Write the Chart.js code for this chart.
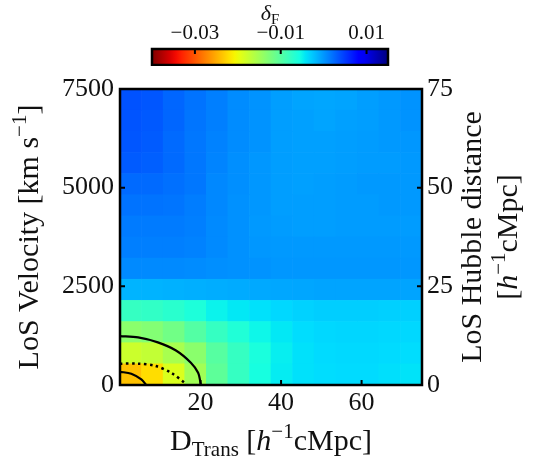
<!DOCTYPE html>
<html>
<head>
<meta charset="utf-8">
<title>Flux contrast map</title>
<script src="https://cdn.jsdelivr.net/npm/chart.js@4.4.1/dist/chart.umd.min.js"></script>
<style>
  html, body { margin: 0; padding: 0; background: #fff; }
  #wrap { position: relative; width: 541px; height: 459px; }
  #wrap canvas { position: absolute; left: 0; top: 0; }
</style>
</head>
<body>
<div id="wrap">
  <canvas id="heat" width="541" height="459"></canvas>
  <canvas id="cbar" width="541" height="66"></canvas>
</div>
<script>
// bin edges: transverse separation [h^-1 cMpc] and line-of-sight velocity [km/s]
const dTransEdges = [0, 5.36, 10.71, 16.07, 21.43, 26.79, 32.14, 37.5, 42.86, 48.21, 53.57, 58.93, 64.29, 69.64, 75];
const velocityEdges = [0, 536, 1071, 1607, 2143, 2679, 3214, 3750, 4286, 4821, 5357, 5893, 6429, 6964, 7500];

// mean flux contrast per bin, one row per velocity bin (lowest velocity first)
const deltaF = [
  [-0.0238, -0.0222, -0.0188, -0.0150, -0.0105, -0.0078, -0.0058, -0.0046, -0.0040, -0.0038, -0.0037, -0.0037, -0.0039, -0.0041],
  [-0.0178, -0.0172, -0.0155, -0.0135, -0.0100, -0.0078, -0.0060, -0.0047, -0.0040, -0.0037, -0.0036, -0.0036, -0.0037, -0.0038],
  [-0.0135, -0.0130, -0.0118, -0.0098, -0.0078, -0.0064, -0.0052, -0.0044, -0.0038, -0.0035, -0.0034, -0.0034, -0.0035, -0.0035],
  [-0.0078, -0.0075, -0.0070, -0.0062, -0.0050, -0.0044, -0.0040, -0.0035, -0.0032, -0.0030, -0.0030, -0.0030, -0.0031, -0.0031],
  [-0.0016, -0.0015, -0.0014, -0.0013, -0.0012, -0.0011, -0.0010, -0.0009, -0.0008, -0.0007, -0.0007, -0.0007, -0.0007, -0.0007],
  [0.0007, 0.0007, 0.0007, 0.0006, 0.0004, 0.0003, 0.0002, 0.0000, 0.0000, 0.0000, 0.0000, 0.0000, 0.0000, 0.0000],
  [0.0013, 0.0013, 0.0013, 0.0011, 0.0007, 0.0003, 0.0000, -0.0001, -0.0001, -0.0001, -0.0001, -0.0001, -0.0001, -0.0001],
  [0.0015, 0.0015, 0.0015, 0.0013, 0.0007, 0.0003, -0.0001, -0.0003, -0.0004, -0.0004, -0.0003, -0.0003, -0.0003, -0.0003],
  [0.0019, 0.0019, 0.0018, 0.0014, 0.0008, 0.0003, 0.0000, -0.0004, -0.0004, -0.0004, -0.0003, -0.0003, -0.0001, -0.0001],
  [0.0024, 0.0024, 0.0021, 0.0017, 0.0008, 0.0004, 0.0000, -0.0004, -0.0005, -0.0004, -0.0003, -0.0001, -0.0001, -0.0001],
  [0.0032, 0.0030, 0.0024, 0.0017, 0.0010, 0.0004, 0.0000, -0.0004, -0.0005, -0.0005, -0.0004, -0.0003, -0.0003, -0.0001],
  [0.0035, 0.0032, 0.0024, 0.0017, 0.0011, 0.0006, 0.0002, -0.0004, -0.0005, -0.0005, -0.0004, -0.0003, -0.0001, 0.0000],
  [0.0036, 0.0033, 0.0026, 0.0018, 0.0013, 0.0006, 0.0002, -0.0004, -0.0005, -0.0007, -0.0005, -0.0004, -0.0001, 0.0002],
  [0.0037, 0.0035, 0.0026, 0.0019, 0.0013, 0.0006, 0.0002, -0.0004, -0.0007, -0.0008, -0.0007, -0.0004, -0.0001, 0.0002]
];

// contour paths (D_Trans, velocity)
const contourOuter = [
  {x: 0, y: 1240}, {x: 4.5, y: 1205}, {x: 9.4, y: 1080}, {x: 13.9, y: 875},
  {x: 17.6, y: 565}, {x: 19.4, y: 310}, {x: 20.1, y: 0}
];
const contourDotted = [
  {x: 0, y: 540}, {x: 4.5, y: 540}, {x: 8.6, y: 490}, {x: 12.7, y: 310}, {x: 16.4, y: 30}
];
const contourInner = [
  {x: 0, y: 335}, {x: 2.8, y: 285}, {x: 5.3, y: 140}, {x: 6.5, y: 0}
];

const dTransTicks = [20, 40, 60];
const velocityTicks = [0, 2500, 5000, 7500];
const hubbleTicks = [0, 25, 50, 75];
const deltaFTicks = [-0.03, -0.01, 0.01];
const deltaFRange = [-0.04, 0.015];

const serif = '"Liberation Serif", "DejaVu Serif", serif';
const ink = '#111';

// reversed jet colour map (matplotlib segment data)
const jet = {
  r: [[0, 0], [0.35, 0], [0.66, 1], [0.89, 1], [1, 0.5]],
  g: [[0, 0], [0.125, 0], [0.375, 1], [0.64, 1], [0.91, 0], [1, 0]],
  b: [[0, 0.5], [0.11, 1], [0.34, 1], [0.65, 0], [1, 0]]
};
function channel(seg, t) {
  for (let i = 1; i < seg.length; i++) {
    if (t <= seg[i][0]) {
      const f = (t - seg[i - 1][0]) / (seg[i][0] - seg[i - 1][0]);
      return seg[i - 1][1] + f * (seg[i][1] - seg[i - 1][1]);
    }
  }
  return seg[seg.length - 1][1];
}
function jetR(s) {
  const t = 1 - Math.min(1, Math.max(0, s));
  const c = k => Math.round(255 * channel(jet[k], t));
  return `rgb(${c('r')},${c('g')},${c('b')})`;
}
function colorFor(v) {
  return jetR((v - deltaFRange[0]) / (deltaFRange[1] - deltaFRange[0]));
}

// text with sub/superscripts, centred on (x, y); rotated when vertical
function drawRich(ctx, parts, x, y, vertical) {
  ctx.save();
  ctx.translate(x, y);
  if (vertical) ctx.rotate(-Math.PI / 2);
  ctx.textBaseline = 'alphabetic';
  ctx.textAlign = 'left';
  ctx.fillStyle = ink;
  let w = 0;
  parts.forEach(p => { ctx.font = p.f; w += ctx.measureText(p.t).width; });
  let cx = -w / 2;
  parts.forEach(p => {
    ctx.font = p.f;
    ctx.fillText(p.t, cx, p.dy || 0);
    cx += ctx.measureText(p.t).width;
  });
  ctx.restore();
}

const big = '30px ' + serif;
const small = '21px ' + serif;
const ital = 'italic 30px ' + serif;

// frame, inward ticks and axis titles
const framePlugin = {
  id: 'frame',
  afterDatasetsDraw(chart) {
    const {ctx, chartArea: a, scales} = chart;
    ctx.save();
    ctx.strokeStyle = '#000';
    ctx.lineWidth = 2;
    ctx.beginPath();
    dTransTicks.forEach(v => {
      const px = scales.x.getPixelForValue(v);
      ctx.moveTo(px, a.bottom); ctx.lineTo(px, a.bottom - 5);
    });
    velocityTicks.forEach(v => {
      const py = scales.y.getPixelForValue(v);
      ctx.moveTo(a.left, py); ctx.lineTo(a.left + 5, py);
    });
    hubbleTicks.forEach(v => {
      const py = scales.y2.getPixelForValue(v);
      ctx.moveTo(a.right, py); ctx.lineTo(a.right - 5, py);
    });
    ctx.stroke();
    ctx.lineWidth = 2.5;
    ctx.strokeRect(a.left, a.top, a.right - a.left, a.bottom - a.top);
    ctx.restore();

    const midY = (a.top + a.bottom) / 2;
    drawRich(ctx, [
      {t: 'D', f: big}, {t: 'Trans', f: small, dy: 6}, {t: ' [', f: big},
      {t: 'h', f: ital}, {t: '\u22121', f: small, dy: -12}, {t: 'cMpc]', f: big}
    ], (a.left + a.right) / 2, 450, false);
    drawRich(ctx, [
      {t: 'LoS Velocity [km s', f: big}, {t: '\u22121', f: small, dy: -12}, {t: ']', f: big}
    ], 38, midY, true);
    drawRich(ctx, [{t: 'LoS Hubble distance', f: big}], 481, midY, true);
    drawRich(ctx, [
      {t: '[', f: big}, {t: 'h', f: ital}, {t: '\u22121', f: small, dy: -12}, {t: 'cMpc]', f: big}
    ], 517, midY, true);
  }
};

function fixedTicks(values) {
  return scale => { scale.ticks = values.map(v => ({value: v})); };
}
const plainLabel = v => String(v);

const cellSets = deltaF.map((row, r) => ({
  type: 'bar',
  order: 2,
  grouped: false,
  barPercentage: 1,
  categoryPercentage: 1,
  borderWidth: 0,
  data: row.map((v, c) => ({
    x: (dTransEdges[c] + dTransEdges[c + 1]) / 2,
    y: [velocityEdges[r], velocityEdges[r + 1]]
  })),
  backgroundColor: row.map(colorFor)
}));

function contourSet(points, dash) {
  return {
    type: 'line',
    order: 1,
    data: points,
    borderColor: '#000',
    borderWidth: dash ? 2.5 : 2.2,
    borderDash: dash || [],
    pointRadius: 0,
    tension: 0.3,
    fill: false
  };
}

const tickFont = {family: serif, size: 26};

new Chart(document.getElementById('heat'), {
  type: 'bar',
  data: {
    datasets: [
      ...cellSets,
      contourSet(contourOuter),
      contourSet(contourDotted, [2.5, 3.5]),
      contourSet(contourInner)
    ]
  },
  options: {
    responsive: false,
    animation: false,
    layout: {padding: {top: 89, left: 0, right: 0, bottom: 0}},
    plugins: {legend: {display: false}, tooltip: {enabled: false}},
    scales: {
      x: {
        type: 'linear', min: 0, max: 75, offset: false,
        afterBuildTicks: fixedTicks(dTransTicks),
        afterFit: s => { s.height = 74; },
        grid: {display: false, drawTicks: false, offset: false},
        border: {display: false},
        ticks: {font: tickFont, color: ink, padding: 3, maxRotation: 0, callback: plainLabel}
      },
      y: {
        type: 'linear', position: 'left', min: 0, max: 7500,
        afterBuildTicks: fixedTicks(velocityTicks),
        afterFit: s => { s.width = 120; },
        grid: {display: false, drawTicks: false},
        border: {display: false},
        ticks: {font: tickFont, color: ink, padding: 6, callback: plainLabel}
      },
      y2: {
        type: 'linear', position: 'right', min: 0, max: 75,
        afterBuildTicks: fixedTicks(hubbleTicks),
        afterFit: s => { s.width = 119; },
        grid: {display: false, drawTicks: false},
        border: {display: false},
        ticks: {font: tickFont, color: ink, padding: 5, callback: plainLabel}
      }
    }
  },
  plugins: [framePlugin]
});

// colour bar on top
const cbarPlugin = {
  id: 'cbarDecor',
  afterDatasetsDraw(chart) {
    const {ctx, chartArea: a, scales} = chart;
    ctx.save();
    ctx.strokeStyle = '#000';
    ctx.lineWidth = 2;
    ctx.beginPath();
    deltaFTicks.forEach(v => {
      const px = scales.x.getPixelForValue(v);
      ctx.moveTo(px, a.top); ctx.lineTo(px, a.top + 5);
    });
    ctx.stroke();
    ctx.lineWidth = 2.5;
    ctx.strokeRect(a.left, a.top, a.right - a.left, a.bottom - a.top);
    ctx.restore();
    drawRich(ctx, [
      {t: '\u03b4', f: 'italic 22px ' + serif}, {t: 'F', f: '15px ' + serif, dy: 4}
    ], (a.left + a.right) / 2, 20, false);
  }
};

new Chart(document.getElementById('cbar'), {
  type: 'bar',
  data: {
    labels: ['\u03b4F'],
    datasets: [{
      data: [deltaFRange],
      barPercentage: 1,
      categoryPercentage: 1,
      borderWidth: 0,
      backgroundColor(c) {
        const a = c.chart.chartArea;
        if (!a) return null;
        const g = c.chart.ctx.createLinearGradient(a.left, 0, a.right, 0);
        for (let i = 0; i <= 40; i++) g.addColorStop(i / 40, jetR(i / 40));
        return g;
      }
    }]
  },
  options: {
    indexAxis: 'y',
    responsive: false,
    animation: false,
    layout: {padding: {top: 0, left: 152, right: 153, bottom: 1}},
    plugins: {legend: {display: false}, tooltip: {enabled: false}},
    scales: {
      x: {
        type: 'linear', position: 'top', min: deltaFRange[0], max: deltaFRange[1],
        afterBuildTicks: fixedTicks(deltaFTicks),
        afterFit: s => { s.height = 49; },
        grid: {display: false, drawTicks: false},
        border: {display: false},
        ticks: {
          font: {family: serif, size: 21}, color: ink, padding: 3, maxRotation: 0,
          callback: v => (v < 0 ? '\u2212' : '') + Math.abs(v).toFixed(2)
        }
      },
      y: {display: false}
    }
  },
  plugins: [cbarPlugin]
});
</script>
</body>
</html>
